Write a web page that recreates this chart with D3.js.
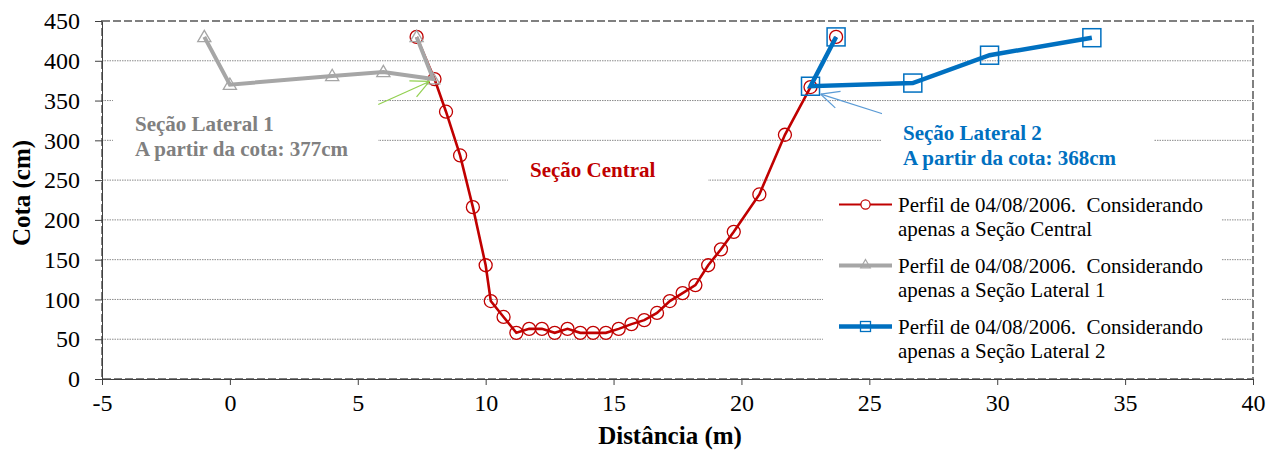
<!DOCTYPE html>
<html>
<head>
<meta charset="utf-8">
<script src="https://cdn.jsdelivr.net/npm/d3@7/dist/d3.min.js"></script>
<style>
  body { margin: 0; background: #fff; }
  svg, svg text { font-family: "Liberation Serif", "Times New Roman", "DejaVu Serif", serif; }
</style>
</head>
<body>
<div id="chart"></div>
<script>
// chart values
var centralX = [7.3, 8.0, 8.45, 9.0, 9.5, 10.0, 10.2, 10.7, 11.2, 11.7, 12.2, 12.7, 13.2, 13.7, 14.2, 14.7, 15.2, 15.7, 16.2, 16.7, 17.2, 17.7, 18.2, 18.7, 19.2, 19.7, 20.7, 21.7, 22.7, 23.7];
var centralY = [430, 377, 336, 281, 216, 143, 98, 78, 58, 63, 63, 58, 63, 58, 58, 58, 63, 69, 74, 83, 98, 108, 118, 143, 163, 185, 232, 307, 367, 430];

var lateral1X = [-1.0, 0.0, 4.0, 6.0, 7.95, 7.3];
var lateral1Y = [430, 370, 381, 386, 377, 430];

var lateral2X = [23.7, 22.7, 26.7, 29.7, 33.7];
var lateral2Y = [430, 368, 372, 407, 429];

var xTicks = [-5, 0, 5, 10, 15, 20, 25, 30, 35, 40];
var yTicks = [0, 50, 100, 150, 200, 250, 300, 350, 400, 450];

var legendLabels = [
  ["Perfil de 04/08/2006.  Considerando", "apenas a Seção Central"],
  ["Perfil de 04/08/2006.  Considerando", "apenas a Seção Lateral 1"],
  ["Perfil de 04/08/2006.  Considerando", "apenas a Seção Lateral 2"]
];

// arrows (data coords): tail -> tip
var arrow1 = [[5.8, 345], [7.8, 374]];
var arrow2 = [[25.85, 330], [23.1, 358]];

var FONT = '"Liberation Serif", "Times New Roman", "DejaVu Serif", serif';

var W = 1279, H = 450;
var margin = {top: 21, right: 26, bottom: 71, left: 102};
var width = W - margin.left - margin.right,
  height = H - margin.top - margin.bottom;

var svg = d3.select('#chart').append('svg')
  .attr('width', W)
  .attr('height', H)
  .attr('font-family', FONT);

var g = svg.append('g')
  .attr('transform', 'translate(' + margin.left + ',' + margin.top + ')');

var x = d3.scaleLinear().domain([-5, 40]).range([0, width]);
var y = d3.scaleLinear().domain([0, 450]).range([height, 0]);

// gridlines (dotted)
g.selectAll('.grid').data(yTicks.filter(function(d) { return d > 0 && d < 450; }))
  .enter().append('line')
  .attr('x1', 0).attr('x2', width)
  .attr('y1', function(d) { return y(d); })
  .attr('y2', function(d) { return y(d); })
  .attr('stroke', '#8a8a8a')
  .attr('stroke-width', 1)
  .attr('stroke-dasharray', '1.5,1');

// white text boxes that hide the gridlines
var boxes = [
  [113, 92, 265, 74],   // lateral 1 label
  [508, 160, 200, 34],  // central label
  [882, 108, 272, 62],  // lateral 2 label
  [823, 184, 399, 188]  // legend
];
svg.selectAll('.box').data(boxes).enter().append('rect')
  .attr('x', function(d) { return d[0]; })
  .attr('y', function(d) { return d[1]; })
  .attr('width', function(d) { return d[2]; })
  .attr('height', function(d) { return d[3]; })
  .attr('fill', '#fff');

// plot border (dashed)
g.append('rect')
  .attr('width', width).attr('height', height)
  .attr('fill', 'none')
  .attr('stroke', '#808080')
  .attr('stroke-width', 2)
  .attr('stroke-dasharray', '8,3');

// axes
var fmt = function(d) { return String(d); };
var xAxis = g.append('g')
  .attr('transform', 'translate(0,' + height + ')')
  .call(d3.axisBottom(x).tickValues(xTicks).tickFormat(fmt).tickSize(6).tickSizeOuter(0).tickPadding(9));
var yAxis = g.append('g')
  .call(d3.axisLeft(y).tickValues(yTicks).tickFormat(fmt).tickSize(7).tickSizeOuter(0).tickPadding(15));

[xAxis, yAxis].forEach(function(a) {
  a.attr('font-family', FONT);
  a.select('.domain').attr('stroke', '#404040');
  a.selectAll('.tick line').attr('stroke', '#404040');
  a.selectAll('.tick text')
    .attr('font-family', FONT)
    .attr('font-size', 24)
    .attr('fill', '#000');
});
xAxis.selectAll('.tick text').attr('dy', '0.71em');

// series
function pts(xs, ys) { return xs.map(function(v, i) { return [v, ys[i]]; }); }
var line = d3.line().x(function(d) { return x(d[0]); }).y(function(d) { return y(d[1]); });

var central = pts(centralX, centralY),
  lat1 = pts(lateral1X, lateral1Y),
  lat2 = pts(lateral2X, lateral2Y);

var red = '#C00000', gray = '#A6A6A6', blue = '#0070C0';

g.append('path').datum(central)
  .attr('d', line).attr('fill', 'none')
  .attr('stroke', red).attr('stroke-width', 2.6);
g.selectAll('.c').data(central).enter().append('circle')
  .attr('cx', function(d) { return x(d[0]); })
  .attr('cy', function(d) { return y(d[1]); })
  .attr('r', 6.5)
  .attr('fill', 'none').attr('stroke', red).attr('stroke-width', 1.3);

var tri = d3.symbol().type(d3.symbolTriangle).size(75);
g.append('path').datum(lat1)
  .attr('d', line).attr('fill', 'none')
  .attr('stroke', gray).attr('stroke-width', 4);
g.selectAll('.t').data(lat1).enter().append('path')
  .attr('d', tri)
  .attr('transform', function(d) { return 'translate(' + x(d[0]) + ',' + (y(d[1]) + 1) + ')'; })
  .attr('fill', 'none').attr('stroke', gray).attr('stroke-width', 1.3);

g.append('path').datum(lat2)
  .attr('d', line).attr('fill', 'none')
  .attr('stroke', blue).attr('stroke-width', 4.5);
g.selectAll('.s').data(lat2).enter().append('rect')
  .attr('x', function(d) { return x(d[0]) - 9; })
  .attr('y', function(d) { return y(d[1]) - 9; })
  .attr('width', 18).attr('height', 18)
  .attr('fill', 'none').attr('stroke', blue).attr('stroke-width', 1.5);

// arrows with open heads
function arrow(a, color) {
  var x1 = x(a[0][0]), y1 = y(a[0][1]), x2 = x(a[1][0]), y2 = y(a[1][1]);
  var ang = Math.atan2(y2 - y1, x2 - x1), len = 20, spread = 0.45;
  g.append('line')
    .attr('x1', x1).attr('y1', y1).attr('x2', x2).attr('y2', y2)
    .attr('stroke', color).attr('stroke-width', 1.2);
  [-spread, spread].forEach(function(s) {
    g.append('line')
      .attr('x1', x2).attr('y1', y2)
      .attr('x2', x2 - len * Math.cos(ang + s))
      .attr('y2', y2 - len * Math.sin(ang + s))
      .attr('stroke', color).attr('stroke-width', 1.2);
  });
}
arrow(arrow1, '#92D050');
arrow(arrow2, '#5B9BD5');

// annotation texts
function label(lines, px, py, color) {
  var t = svg.append('text')
    .attr('x', px).attr('y', py)
    .attr('font-size', 21).attr('font-weight', 'bold')
    .attr('fill', color);
  lines.forEach(function(s, i) {
    t.append('tspan').attr('x', px).attr('dy', i ? 25 : 0).text(s);
  });
}
label(['Seção Lateral 1', 'A partir da cota: 377cm'], 135, 131, '#808080');
label(['Seção Central'], 530, 177, red);
label(['Seção Lateral 2', 'A partir da cota: 368cm'], 903, 140, blue);

// axis titles
svg.append('text')
  .attr('transform', 'translate(30,193) rotate(-90)')
  .attr('text-anchor', 'middle')
  .attr('font-size', 25).attr('font-weight', 'bold')
  .text('Cota (cm)');
svg.append('text')
  .attr('x', 670).attr('y', 444)
  .attr('text-anchor', 'middle')
  .attr('font-size', 25).attr('font-weight', 'bold')
  .text('Distância (m)');

// legend
var legend = svg.append('g').attr('transform', 'translate(839,212)');
var styles = [
  {color: red, w: 2.2},
  {color: gray, w: 4},
  {color: blue, w: 4.5}
];
legend.selectAll('.entry').data(legendLabels).enter().append('g')
  .attr('transform', function(d, i) { return 'translate(0,' + (i * 61) + ')'; })
  .each(function(d, i) {
    var e = d3.select(this), st = styles[i];
    e.append('line')
      .attr('x1', 0).attr('x2', 53).attr('y1', -7.5).attr('y2', -7.5)
      .attr('stroke', st.color).attr('stroke-width', st.w);
    if (i === 0) {
      e.append('circle').attr('cx', 26.5).attr('cy', -7.5).attr('r', 4.6)
        .attr('fill', '#fff').attr('stroke', st.color).attr('stroke-width', 1.2);
    } else if (i === 1) {
      e.append('path').attr('d', d3.symbol().type(d3.symbolTriangle).size(40))
        .attr('transform', 'translate(26.5,-8)')
        .attr('fill', 'none').attr('stroke', st.color).attr('stroke-width', 1.2);
    } else {
      e.append('rect').attr('x', 21.5).attr('y', -12.5).attr('width', 10).attr('height', 10)
        .attr('fill', 'none').attr('stroke', st.color).attr('stroke-width', 1.3);
    }
    var t = e.append('text').attr('x', 59).attr('font-size', 21).attr('fill', '#000')
      .style('white-space', 'pre');
    d.forEach(function(s, j) {
      t.append('tspan').attr('x', 59).attr('dy', j ? 24 : 0).text(s);
    });
  });
</script>
</body>
</html>
